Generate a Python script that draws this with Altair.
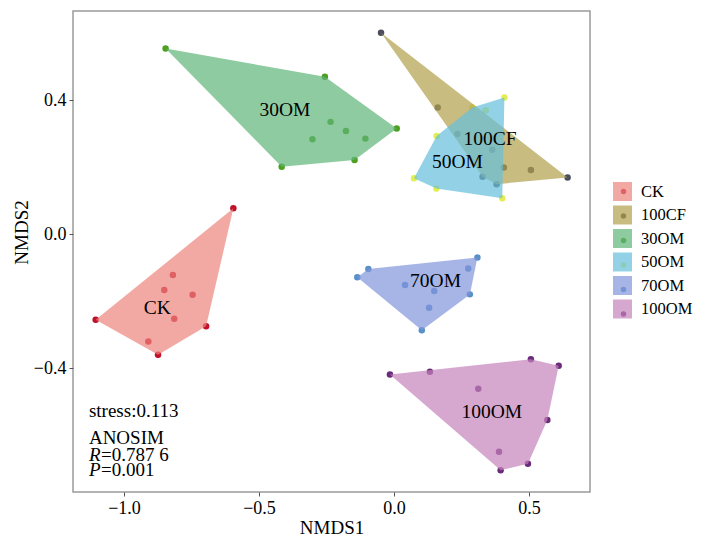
import altair as alt
import pandas as pd

groups = ["CK", "100CF", "30OM", "50OM", "70OM", "100OM"]
fill_colors = ["#EC847D", "#B29F4C", "#5FB577", "#65BFDC", "#8094DC", "#C583BB"]
dot_colors = ["#C0102A", "#4A4E5E", "#4CA020", "#E4EE50", "#5A90C8", "#6A2C7A"]

ck_x = [-0.595, -0.819, -0.851, -0.746, -0.814, -1.105, -0.696, -0.910, -0.874]
ck_y = [0.077, -0.122, -0.167, -0.181, -0.253, -0.256, -0.275, -0.321, -0.360]
cf100_x = [-0.048, 0.162, 0.235, 0.364, 0.407, 0.507, 0.643, 0.328, 0.380]
cf100_y = [0.601, 0.378, 0.299, 0.252, 0.199, 0.191, 0.169, 0.171, 0.149]
om30_x = [-0.846, -0.256, -0.235, -0.178, -0.302, -0.106, 0.010, -0.146, -0.416]
om30_y = [0.554, 0.470, 0.335, 0.308, 0.283, 0.285, 0.315, 0.221, 0.201]
om50_x = [0.409, 0.290, 0.340, 0.158, 0.074, 0.157, 0.401]
om50_y = [0.408, 0.378, 0.370, 0.293, 0.167, 0.136, 0.107]
om70_x = [0.309, 0.275, -0.095, -0.136, 0.041, 0.149, 0.281, 0.130, 0.103]
om70_y = [-0.070, -0.103, -0.104, -0.129, -0.152, -0.170, -0.180, -0.220, -0.287]
om100_x = [-0.015, 0.133, 0.507, 0.610, 0.312, 0.568, 0.389, 0.496, 0.395]
om100_y = [-0.419, -0.411, -0.374, -0.393, -0.462, -0.555, -0.650, -0.686, -0.705]

label_x = [-0.877, 0.356, -0.404, 0.235, 0.154, 0.362]
label_y = [-0.222, 0.283, 0.370, 0.216, -0.140, -0.530]

stress_text = "stress:0.113"
anosim_text = "ANOSIM"
r_value = "=0.787 6"
p_value = "=0.001"

series = {
    "CK": (ck_x, ck_y),
    "100CF": (cf100_x, cf100_y),
    "30OM": (om30_x, om30_y),
    "50OM": (om50_x, om50_y),
    "70OM": (om70_x, om70_y),
    "100OM": (om100_x, om100_y),
}


def hull(pts):
    pts = sorted(set(pts))
    if len(pts) <= 2:
        return pts

    def cross(o, a, b):
        return (a[0] - o[0]) * (b[1] - o[1]) - (a[1] - o[1]) * (b[0] - o[0])

    lower, upper = [], []
    for p in pts:
        while len(lower) >= 2 and cross(lower[-2], lower[-1], p) <= 0:
            lower.pop()
        lower.append(p)
    for p in reversed(pts):
        while len(upper) >= 2 and cross(upper[-2], upper[-1], p) <= 0:
            upper.pop()
        upper.append(p)
    return lower[:-1] + upper[:-1]


pt_rows, hull_rows = [], []
for g in groups:
    xs, ys = series[g]
    for a, b in zip(xs, ys):
        pt_rows.append({"group": g, "x": a, "y": b})
    for i, (a, b) in enumerate(hull(list(zip(xs, ys)))):
        hull_rows.append({"group": g, "x": a, "y": b, "order": i})

pts_df = pd.DataFrame(pt_rows)
hull_df = pd.DataFrame(hull_rows)
lab_df = pd.DataFrame({"group": groups, "x": label_x, "y": label_y})

FONT = "Liberation Serif"
xs = alt.Scale(domain=[-1.189, 0.726], nice=False, zero=False)
ys = alt.Scale(domain=[-0.770, 0.666], nice=False, zero=False)
xax = alt.Axis(values=[-1.0, -0.5, 0.0, 0.5], format=".1f", title="NMDS1",
               titleBaseline="top", titleY=26)
yax = alt.Axis(values=[-0.4, 0.0, 0.4], format=".1f", title="NMDS2",
               titleX=-42, titleY=221, titleBaseline="bottom")

points = alt.Chart(pts_df).mark_circle(size=42, opacity=1).encode(
    x=alt.X("x:Q", scale=xs, axis=xax),
    y=alt.Y("y:Q", scale=ys, axis=yax),
    color=alt.Color("group:N", scale=alt.Scale(domain=groups, range=dot_colors),
                    legend=alt.Legend(orient="none", legendX=540, legendY=171, title=None,
                                      symbolType="circle", symbolSize=30,
                                      symbolOffset=1, labelFontSize=19,
                                      labelExpr="''", rowPadding=4.5,
                                      symbolOpacity=1)),
)

polys = alt.Chart(hull_df).mark_line(interpolate="linear-closed", filled=True,
                                     opacity=0.7, strokeWidth=0).encode(
    x=alt.X("x:Q", scale=xs),
    y=alt.Y("y:Q", scale=ys),
    color=alt.Color("group:N", scale=alt.Scale(domain=groups, range=fill_colors),
                    legend=alt.Legend(orient="none", legendX=540, legendY=171, title=None,
                                      symbolType="square", symbolSize=361,
                                      labelFont=FONT, labelFontSize=16.5,
                                      labelColor="black", labelOffset=9,
                                      rowPadding=4.5, symbolOpacity=0.7,
                                      symbolStrokeWidth=0)),
    order="order:Q",
)

labels = alt.Chart(lab_df).mark_text(font=FONT, fontSize=19.5, color="black").encode(
    x=alt.X("x:Q", scale=xs), y=alt.Y("y:Q", scale=ys), text="group:N")

ann_df = pd.DataFrame({"t": [stress_text, anosim_text], "x": [-1.130, -1.130], "y": [-0.527, -0.609]})
ann = alt.Chart(ann_df).mark_text(font=FONT, fontSize=19, align="left", color="black").encode(
    x=alt.X("x:Q", scale=xs), y=alt.Y("y:Q", scale=ys), text="t:N")

it_df = pd.DataFrame({"t": ["R", "P"], "x": [-1.130, -1.130], "y": [-0.660, -0.705]})
ital = alt.Chart(it_df).mark_text(font=FONT, fontSize=19, fontStyle="italic", align="left",
                                  color="black").encode(
    x=alt.X("x:Q", scale=xs), y=alt.Y("y:Q", scale=ys), text="t:N")
val_df = pd.DataFrame({"t": [r_value, p_value], "x": [-1.130, -1.130], "y": [-0.660, -0.705]})
vals = alt.Chart(val_df).mark_text(font=FONT, fontSize=19, align="left", dx=12,
                                   color="black").encode(
    x=alt.X("x:Q", scale=xs), y=alt.Y("y:Q", scale=ys), text="t:N")

chart = alt.layer(points, polys, labels, ann, ital, vals).resolve_scale(
    color="independent").resolve_legend(color="independent").properties(
    width=517, height=481,
    autosize=alt.AutoSizeParams(type="none"),
    padding={"left": 65, "top": 3, "right": 103, "bottom": 45},
).configure_view(stroke="#9a9a9a", strokeWidth=1.5).configure_axis(
    labelFont=FONT, labelFontSize=18, labelColor="black", titleFont=FONT,
    titleFontSize=19, titleFontWeight="normal", titleColor="black",
    tickColor="#555555", tickSize=4, domain=False, grid=False, labelPadding=3,
).configure_legend(labelFont=FONT)

chart.save("out.html", embed_options={"renderer": "svg", "actions": False})
